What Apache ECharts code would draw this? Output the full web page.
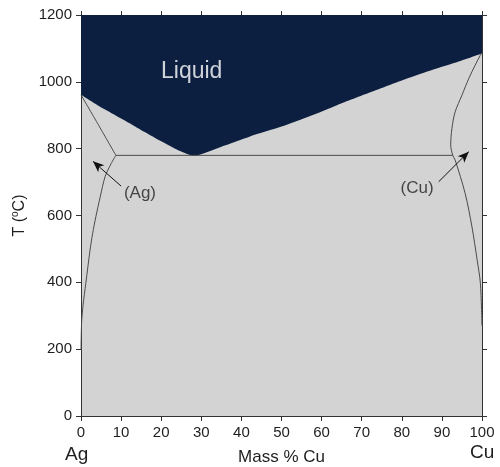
<!DOCTYPE html>
<html>
<head>
<meta charset="utf-8">
<script src="https://cdn.jsdelivr.net/npm/echarts@6/dist/echarts.min.js"></script>
<style>
html,body{margin:0;padding:0;background:#fff;}
#c{width:500px;height:467px;}
</style>
</head>
<body>
<div id="c"></div>
<script>
// ---- Data (Mass % Cu, Temperature °C) ----
const xTicks = [0,10,20,30,40,50,60,70,80,90,100];
const yTicks = [0,200,400,600,800,1000,1200];
const liquidus = [[0,961],[4,931],[8,904],[12,877],[16,849],[20,822],[24,797],[28.1,779],[35,806],[42,836],[50,866],[57,897],[64,931],[72,968],[80,1004],[87,1033],[93,1056],[100,1085]];
const solidusAg = [[0,961],[4.4,870],[8.7,780]];
const solvusAg = [[8.7,780],[7.5,755],[6.0,716],[4.8,656],[3.7,596],[2.9,546],[2.25,496],[1.2,397],[0.5,330],[0.15,280],[0,200]];
const eutectic = [[8.7,780],[92.7,780]];
const curveCu = [[100,1085],[99.6,1080],[98.3,1050],[96.7,1010],[95.0,960],[93.3,910],[92.5,861],[92.2,811],[92.7,780],[93.3,766],[95.8,666],[97.5,566],[98.8,466],[99.6,397],[100,270]];
const arrowAg = [[10.0,688],[3.0,762]];
const arrowCu = [[89.2,701],[96.7,791]];
const regionLabels = [
  {name:'Liquid', value:[27.6,1030]},
  {name:'(Ag)', value:[14.7,665]},
  {name:'(Cu)', value:[83.8,680]}
];

const chart = echarts.init(document.getElementById('c'), null, {renderer:'canvas'});
const lineColor = '#4a4a4a';
const axisColor = '#333';
const font = 'Liberation Sans, Arial, sans-serif';

function boundary(name, data){
  return {name, type:'line', data, showSymbol:false, symbol:'none', smooth:0.3,
    lineStyle:{color:lineColor, width:1}, silent:true, z:3};
}

const option = {
  animation:false,
  textStyle:{fontFamily:font},
  grid:{left:81, right:18, top:15, bottom:51, show:true, backgroundColor:'#d3d3d3', borderWidth:0,
    containLabel:false, outerBoundsMode:'none'},
  xAxis:[{
    type:'value', min:0, max:100, interval:10, position:'bottom',
    axisLine:{show:true, onZero:false, lineStyle:{color:axisColor, width:1}},
    axisTick:{show:true, length:5, lineStyle:{color:axisColor}},
    splitLine:{show:false},
    axisLabel:{fontSize:15, color:'#1e1e1e', margin:9, fontFamily:font,
      formatter:v=> xTicks.includes(v) ? String(v) : ''},
    name:'Mass % Cu', nameLocation:'middle', nameGap:33,
    nameTextStyle:{fontSize:17, color:'#1e1e1e', fontFamily:font}
  },{
    type:'value', min:0, max:100, interval:10, position:'top',
    axisLine:{show:true, onZero:false, lineStyle:{color:axisColor, width:1}},
    axisTick:{show:true, inside:false, length:4, lineStyle:{color:axisColor, width:1}},
    splitLine:{show:false}, axisLabel:{show:false}
  }],
  yAxis:[{
    type:'value', min:0, max:1200, interval:200, position:'left',
    axisLine:{show:true, onZero:false, lineStyle:{color:axisColor, width:1}},
    axisTick:{show:true, length:5, lineStyle:{color:axisColor}},
    splitLine:{show:false},
    axisLabel:{fontSize:15, color:'#1e1e1e', margin:9, fontFamily:font,
      formatter:v=> yTicks.includes(v) ? String(v) : ''},
    name:'{a|T (}{s|o}{a|C)}', nameLocation:'middle', nameGap:45,
    nameTextStyle:{color:'#1e1e1e', fontFamily:font,
      rich:{a:{fontSize:16, color:'#1e1e1e', fontFamily:font, lineHeight:18},
            s:{fontSize:10, color:'#1e1e1e', fontFamily:font, verticalAlign:'top', lineHeight:18}}}
  },{
    type:'value', min:0, max:1200, interval:200, position:'right',
    axisLine:{show:true, onZero:false, lineStyle:{color:axisColor, width:1}},
    axisTick:{show:true, inside:false, length:5, lineStyle:{color:axisColor, width:1}},
    splitLine:{show:false}, axisLabel:{show:false}
  }],
  graphic:[
    {type:'text', left:65, top:445, style:{text:'Ag', fontSize:19, fill:'#1e1e1e', fontFamily:font}},
    {type:'text', left:470, top:443, style:{text:'Cu', fontSize:19, fill:'#1e1e1e', fontFamily:font}}
  ],
  series:[
    {name:'Liquid', type:'line', data:liquidus, showSymbol:false, symbol:'none', smooth:0.2,
      lineStyle:{width:0}, areaStyle:{color:'#0d1f40', opacity:1, origin:'end'}, silent:true, z:2},
    boundary('solidusAg', solidusAg),
    boundary('solvusAg', solvusAg),
    {name:'eutectic', type:'line', data:eutectic, showSymbol:false, symbol:'none',
      lineStyle:{color:lineColor, width:1}, silent:true, z:3},
    boundary('curveCu', curveCu),
    {name:'arrows', type:'line', data:[], silent:true, z:4,
      markLine:{silent:true, symbol:['none','arrow'], symbolSize:[7,11], label:{show:false},
        lineStyle:{color:'#111', width:1, type:'solid'},
        emphasis:{disabled:true},
        data:[
          [{coord:arrowAg[0]},{coord:arrowAg[1]}],
          [{coord:arrowCu[0]},{coord:arrowCu[1]}]
        ]}},
    {name:'labels', type:'scatter', symbolSize:0, silent:true, z:5,
      data: regionLabels.map(d=>({
        name:d.name, value:d.value,
        label:{show:true, position:'inside', formatter:d.name, fontFamily:font,
          fontSize: d.name==='Liquid' ? 23 : 17,
          color: d.name==='Liquid' ? '#ffffff' : '#1e1e1e'}
      }))}
  ]
};
chart.setOption(option);
</script>
</body>
</html>
